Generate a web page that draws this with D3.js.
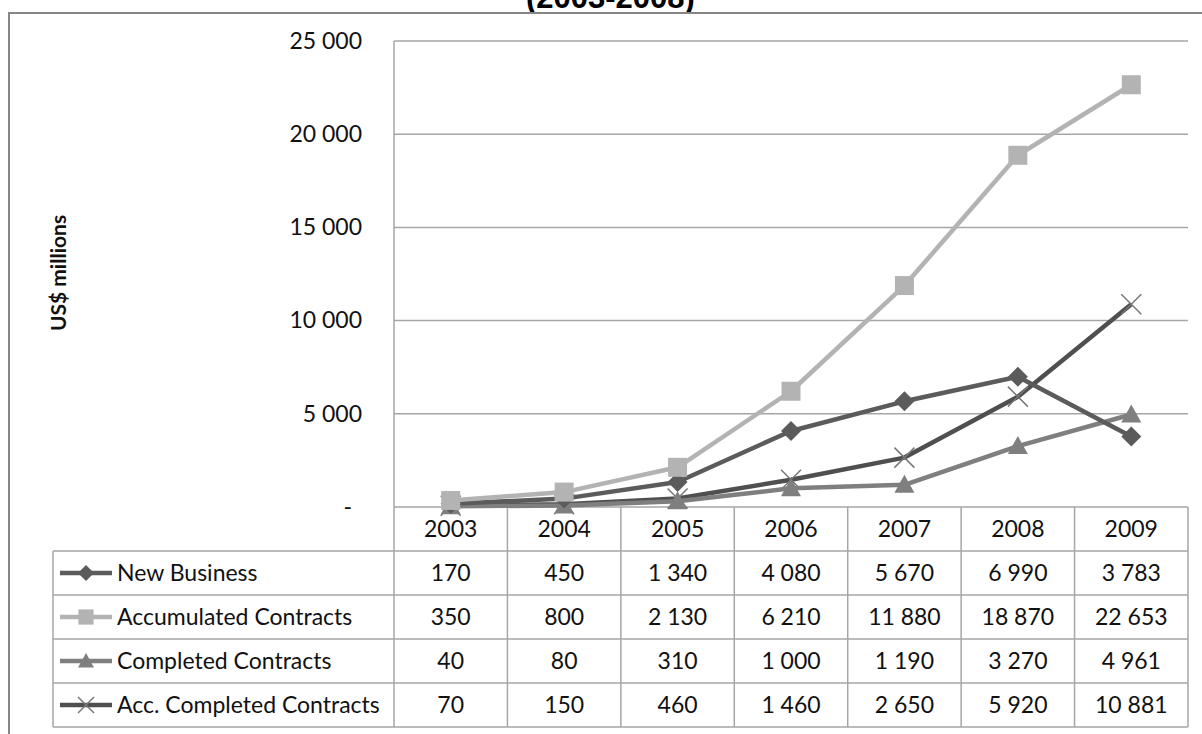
<!DOCTYPE html>
<html>
<head>
<meta charset="utf-8">
<script src="https://cdn.jsdelivr.net/npm/d3@7"></script>
<style>
  body { margin: 0; background: #fff; }
  text { font-family: Lato, "Open Sans", sans-serif; fill: #111; }
</style>
</head>
<body>
<div id="chart"></div>
<script>
// chart data
const years = ["2003", "2004", "2005", "2006", "2007", "2008", "2009"];
const seriesNames = ["New Business", "Accumulated Contracts", "Completed Contracts", "Acc. Completed Contracts"];
const newBusiness = [170, 450, 1340, 4080, 5670, 6990, 3783];
const accumulated = [350, 800, 2130, 6210, 11880, 18870, 22653];
const completed = [40, 80, 310, 1000, 1190, 3270, 4961];
const accCompleted = [70, 150, 460, 1460, 2650, 5920, 10881];
const yTicks = [0, 5000, 10000, 15000, 20000, 25000];

const series = [
  { name: seriesNames[0], values: newBusiness, color: "#5b5b5b", marker: "diamond" },
  { name: seriesNames[1], values: accumulated, color: "#b3b3b3", marker: "square" },
  { name: seriesNames[2], values: completed, color: "#7f7f7f", marker: "triangle" },
  { name: seriesNames[3], values: accCompleted, color: "#4f4f4f", marker: "cross" }
];

const width = 1202, height = 734;
const plotLeft = 394, plotRight = 1188, plotTop = 41, base = 507, rowH = 44;
const gridColor = "#a6a6a6";
const fontSize = "23px";

const svg = d3.select("#chart").append("svg")
  .attr("width", width)
  .attr("height", height);

// title, mostly cut off at the top of the picture
svg.append("text")
  .attr("x", 526).attr("y", 8)
  .style("font-family", "'Liberation Sans', Arial, sans-serif")
  .style("font-weight", "bold").style("font-size", "31px")
  .style("fill", "#000")
  .text("(2003-2008)");

// outer frame
svg.append("rect")
  .attr("x", 9).attr("y", 13)
  .attr("width", 1300).attr("height", 800)
  .attr("fill", "#fff").attr("stroke", "#868686").attr("stroke-width", 2);

const x = d3.scaleBand().domain(years).range([plotLeft, plotRight]);
const y = d3.scaleLinear().domain([0, 25000]).range([base, plotTop]);

// gridlines
svg.append("g").selectAll("line")
  .data(yTicks.filter(d => d > 0))
  .join("line")
  .attr("x1", plotLeft).attr("x2", plotRight)
  .attr("y1", d => y(d)).attr("y2", d => y(d))
  .attr("stroke", gridColor).attr("stroke-width", 1.5);

// y axis
const fmt = d3.formatLocale({ decimal: ".", thousands: " ", grouping: [3], currency: ["", ""] }).format(",");
const yAxis = svg.append("g")
  .attr("transform", `translate(${plotLeft},0)`)
  .call(d3.axisLeft(y).tickValues(yTicks).tickSize(0).tickPadding(32)
    .tickFormat(d => d === 0 ? "-" : fmt(d)));
yAxis.select(".domain").remove();
yAxis.selectAll("text")
  .style("font-family", "Lato, sans-serif")
  .style("font-size", fontSize).attr("fill", "#111")
  .attr("dx", d => d === 0 ? -10 : 0);

svg.append("text")
  .attr("transform", "translate(66,273) rotate(-90)")
  .attr("text-anchor", "middle")
  .style("font-weight", "bold").style("font-size", "21px")
  .text("US$ millions");

// data table under the plot
const tableBottom = base + rowH * 5;
const tg = svg.append("g");
tg.append("line")
  .attr("x1", plotLeft).attr("x2", plotLeft).attr("y1", plotTop).attr("y2", tableBottom)
  .attr("stroke", gridColor).attr("stroke-width", 1.5);
tg.append("line")
  .attr("x1", plotLeft).attr("x2", plotRight).attr("y1", base).attr("y2", base)
  .attr("stroke", gridColor).attr("stroke-width", 1.5);
tg.selectAll(".hrow")
  .data(d3.range(1, 6))
  .join("line")
  .attr("x1", 53).attr("x2", plotRight)
  .attr("y1", i => base + i * rowH).attr("y2", i => base + i * rowH)
  .attr("stroke", gridColor).attr("stroke-width", 1.5);
tg.append("line")
  .attr("x1", 53).attr("x2", 53).attr("y1", base + rowH).attr("y2", tableBottom)
  .attr("stroke", gridColor).attr("stroke-width", 1.5);
tg.selectAll(".vcol")
  .data(years)
  .join("line")
  .attr("x1", d => x(d) + x.bandwidth()).attr("x2", d => x(d) + x.bandwidth())
  .attr("y1", base).attr("y2", tableBottom)
  .attr("stroke", gridColor).attr("stroke-width", 1.5);

tg.selectAll(".year")
  .data(years)
  .join("text")
  .attr("x", d => x(d) + x.bandwidth() / 2)
  .attr("y", base + rowH / 2 + 8)
  .attr("text-anchor", "middle")
  .style("font-size", fontSize)
  .text(d => d);

series.forEach((s, si) => {
  const ry = base + rowH * (si + 1) + rowH / 2;
  tg.selectAll(".v" + si)
    .data(s.values)
    .join("text")
    .attr("x", (d, i) => x(years[i]) + x.bandwidth() / 2)
    .attr("y", ry + 8)
    .attr("text-anchor", "middle")
    .style("font-size", fontSize)
    .text(d => fmt(d));
  tg.append("line")
    .attr("x1", 60).attr("x2", 112).attr("y1", ry).attr("y2", ry)
    .attr("stroke", s.color).attr("stroke-width", 4.5);
  drawMarker(tg, s, 86, ry, 0.8);
  tg.append("text")
    .attr("x", 117).attr("y", ry + 8)
    .style("font-size", fontSize)
    .text(s.name);
});

// lines
const line = d3.line()
  .x((d, i) => x(years[i]) + x.bandwidth() / 2)
  .y(d => y(d));

const order = [3, 2, 0, 1];
order.forEach(si => {
  const s = series[si];
  svg.append("path")
    .datum(s.values)
    .attr("d", line)
    .attr("fill", "none")
    .attr("stroke", s.color)
    .attr("stroke-width", 4.5)
    .attr("stroke-linejoin", "round");
  s.values.forEach((v, i) => drawMarker(svg, s, x(years[i]) + x.bandwidth() / 2, y(v), 1));
});

function drawMarker(g, s, cx, cy, k) {
  if (s.marker === "square") {
    const r = 9.5 * k;
    g.append("rect").attr("x", cx - r).attr("y", cy - r)
      .attr("width", 2 * r).attr("height", 2 * r).attr("fill", s.color);
  } else if (s.marker === "diamond") {
    const r = 10 * k;
    g.append("path")
      .attr("d", `M${cx},${cy - r}L${cx + r},${cy}L${cx},${cy + r}L${cx - r},${cy}Z`)
      .attr("fill", s.color);
  } else if (s.marker === "triangle") {
    const r = 10 * k;
    g.append("path")
      .attr("d", `M${cx},${cy - r}L${cx + r},${cy + r * 0.8}L${cx - r},${cy + r * 0.8}Z`)
      .attr("fill", s.color);
  } else {
    const r = 10 * k;
    g.append("path")
      .attr("d", `M${cx - r},${cy - r}L${cx + r},${cy + r}M${cx - r},${cy + r}L${cx + r},${cy - r}`)
      .attr("stroke", "#777").attr("stroke-width", 1.5);
  }
}
</script>
</body>
</html>
